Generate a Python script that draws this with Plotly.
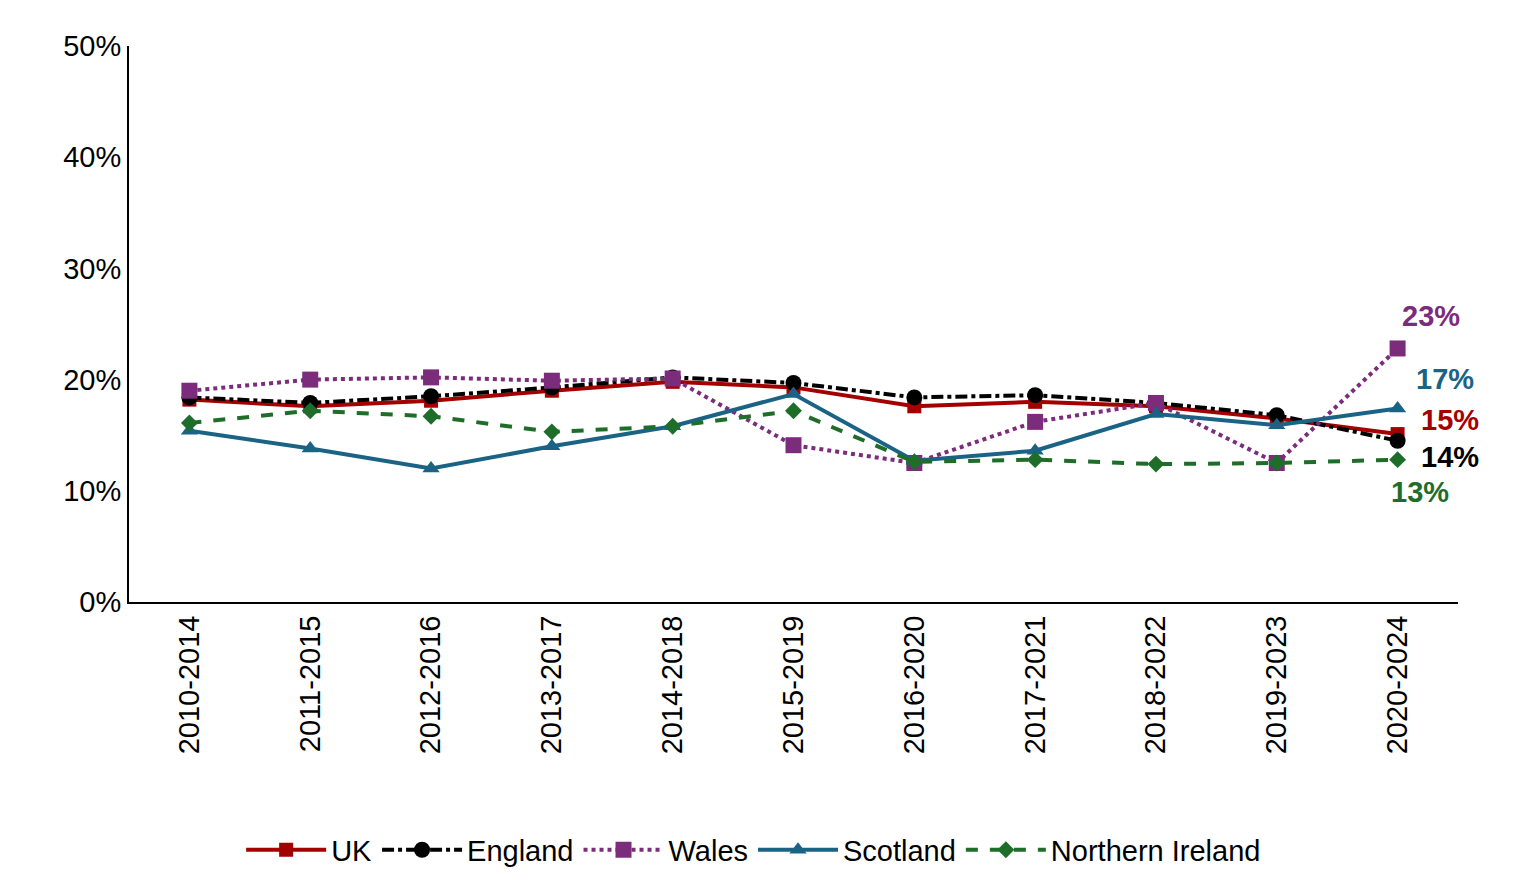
import plotly.graph_objects as go

periods = ["2010-2014","2011-2015","2012-2016","2013-2017","2014-2018","2015-2019",
           "2016-2020","2017-2021","2018-2022","2019-2023","2020-2024"]
uk = [18.2,17.6,18.1,19.0,19.8,19.3,17.6,18.0,17.6,16.5,15.1]
england = [18.4,17.9,18.5,19.3,20.2,19.7,18.4,18.6,17.9,16.8,14.5]
wales = [19.0,20.0,20.2,19.9,20.1,14.1,12.5,16.2,17.9,12.5,22.8]
scotland = [15.4,13.8,12.0,14.0,15.8,18.7,12.7,13.6,16.9,15.9,17.4]
ni = [16.1,17.2,16.7,15.3,15.8,17.2,12.6,12.8,12.4,12.5,12.8]
end_labels = ["15%","14%","23%","17%","13%"]

series = [
    ("UK", uk, "#A50000", "solid", "square", 14),
    ("England", england, "#000000", "dashdot", "circle", 16),
    ("Wales", wales, "#7B2C7B", "dot", "square", 16),
    ("Scotland", scotland, "#1A6385", "solid", "triangle-up", 15),
    ("Northern Ireland", ni, "#1E6E2A", "dash", "diamond", 13),
]
fig = go.Figure()
for name, vals, col, dash, sym, sz in series:
    fig.add_trace(go.Scatter(x=periods, y=[v/100 for v in vals], name=name, mode="lines+markers",
        line=dict(color=col, width=4, dash=dash), marker=dict(symbol=sym, size=sz, color=col)))

anns = [
    dict(color="#A50000", yshift=14, xshift=52),
    dict(color="#000000", yshift=-16, xshift=52),
    dict(color="#7B2C7B", yshift=32, xshift=33),
    dict(color="#1A6385", yshift=30, xshift=47),
    dict(color="#1E6E2A", yshift=-32, xshift=22),
]
for a, txt, vals in zip(anns, end_labels, [uk, england, wales, scotland, ni]):
    fig.add_annotation(x=periods[-1], y=vals[-1]/100, text="<b>%s</b>" % txt, showarrow=False,
        xshift=a["xshift"], yshift=a["yshift"], font=dict(size=29, color=a["color"], family="Liberation Sans"))

fig.update_layout(
    width=1538, height=892, plot_bgcolor="white", paper_bgcolor="white",
    font=dict(family="Liberation Sans", size=29, color="black"),
    margin=dict(l=121, r=88, t=38, b=298),
    xaxis=dict(tickangle=-90, showline=True, linecolor="black", linewidth=2, ticks="", range=[-0.5,10.5]),
    yaxis=dict(range=[0,0.5], tickformat=".0%", dtick=0.1, showgrid=False, showline=True,
               linecolor="black", linewidth=2, ticks=""),
    legend=dict(orientation="h", x=0.47, xanchor="center", y=-0.4, yanchor="top",
                itemwidth=80, font=dict(size=29)),
)
fig.write_html("out.html")
